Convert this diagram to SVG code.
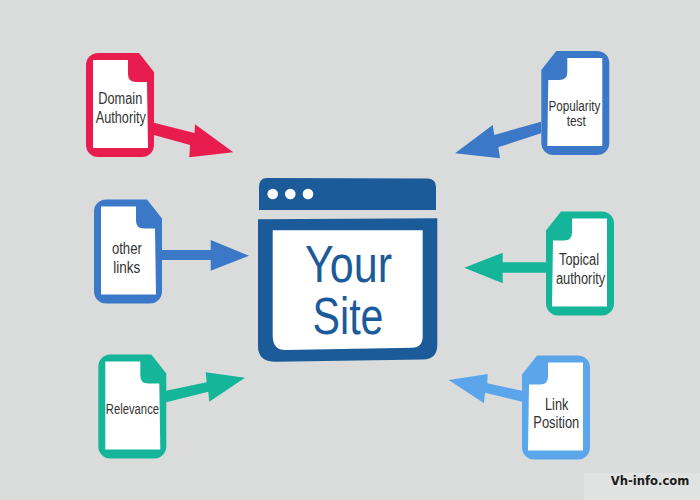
<svg xmlns="http://www.w3.org/2000/svg" width="700" height="500" viewBox="0 0 700 500">
<style>
.red{fill:#e91c50}.blue{fill:#3c78c8}.teal{fill:#14b598}.sky{fill:#5ba6ea}.navy{fill:#1c5b99}.w{fill:#fff}
text{font-family:"Liberation Sans",Arial,sans-serif;text-anchor:middle;fill:#333}
.big{font-size:52px;fill:#1c5b99}
.mark{font-family:"DejaVu Sans",sans-serif;font-weight:700;font-size:13px;fill:#1c1c1c}
</style>
<defs>
<path id="outer" d="M12,0H53L68,19V92A12,12 0 0 1 56,104H12A12,12 0 0 1 0,92V12A12,12 0 0 1 12,0Z"/>
<path id="inner" d="M7,7H42V21Q42,29 50,29H61L62,95H7Z" fill="#fff"/>
</defs>
<rect width="700" height="500" fill="#dadcdb"/>
<rect x="584" y="473" width="116" height="27" fill="#e1e3e2"/>
<g id="connectors">
<polygon class="red" points="154,122.7 194.5,133 195,124.3 233.3,152.3 189.3,157.3 190,145 154,135"/>
<polygon class="blue" points="161.7,250 210.7,250 210.7,240 249,255.7 210.7,270.7 210.7,260 161.7,260"/>
<polygon class="teal" points="166,390.7 206.7,382.3 205.7,372.3 245,377.7 209.3,401.7 208.3,391.7 166,402.3"/>
<polygon class="blue" points="541,121.7 494.3,135 492.7,125 455,153.3 500,158.3 498.3,147.3 541,133.3"/>
<polygon class="teal" points="546,262.3 502.7,262.3 502.7,252.7 464.3,267.7 502.7,283.3 502.7,272.7 546,272.7"/>
<polygon class="sky" points="522,390.7 487.3,383.3 487.7,374 448.7,380 484,403.3 485,392.7 522,401.7"/>
</g>
<g id="node-domain-authority">
<use href="#outer" class="red" x="86" y="53"/><use href="#inner" x="86" y="53"/>
<text x="120.3" y="104" font-size="16" textLength="44" lengthAdjust="spacingAndGlyphs">Domain</text>
<text x="120.8" y="123.3" font-size="16" textLength="50" lengthAdjust="spacingAndGlyphs">Authority</text>
</g>
<g id="node-other-links">
<use href="#outer" class="blue" x="94" y="199.5"/><use href="#inner" x="94" y="199.5"/>
<text x="126.9" y="254" font-size="16" textLength="30" lengthAdjust="spacingAndGlyphs">other</text>
<text x="126.7" y="273" font-size="16" textLength="27" lengthAdjust="spacingAndGlyphs">links</text>
</g>
<g id="node-relevance">
<use href="#outer" class="teal" x="98.3" y="354.5"/><use href="#inner" x="98.3" y="354.5"/>
<text x="132.4" y="413.7" font-size="14" textLength="53.3" lengthAdjust="spacingAndGlyphs">Relevance</text>
</g>
<g id="node-popularity-test">
<g transform="translate(609.3,51) scale(-1,1)"><use href="#outer" class="blue"/><use href="#inner"/></g>
<text x="574.4" y="110.7" font-size="14" textLength="52" lengthAdjust="spacingAndGlyphs">Popularity</text>
<text x="576.3" y="126" font-size="14" textLength="19.3" lengthAdjust="spacingAndGlyphs">test</text>
</g>
<g id="node-topical-authority">
<g transform="translate(614,211.5) scale(-1,1)"><use href="#outer" class="teal"/><use href="#inner"/></g>
<text x="579" y="265.3" font-size="16" textLength="40" lengthAdjust="spacingAndGlyphs">Topical</text>
<text x="580.6" y="284" font-size="16" textLength="49.3" lengthAdjust="spacingAndGlyphs">authority</text>
</g>
<g id="node-link-position">
<g transform="translate(590,355.5) scale(-1,1)"><use href="#outer" class="sky"/><use href="#inner"/></g>
<text x="556.7" y="410" font-size="16" textLength="23.3" lengthAdjust="spacingAndGlyphs">Link</text>
<text x="556.3" y="428.3" font-size="16" textLength="46" lengthAdjust="spacingAndGlyphs">Position</text>
</g>
<g id="node-your-site">
<path class="navy" d="M267,178L428,178.5Q436,179 436,187V210H259V187Q259,178 267,178Z"/>
<circle class="w" cx="272.7" cy="194" r="5.3"/><circle class="w" cx="290.3" cy="194" r="5.3"/><circle class="w" cx="308" cy="194" r="5.3"/>
<path class="navy" d="M258,219.3L437.3,218.3V345Q437.3,359 423,359.5L276,361.7Q258,362 258,346Z"/>
<path class="w" d="M272.7,230.3H422.7V336Q422.7,347.5 412,347.8L285,350Q273.5,350 272.7,337Z"/>
<text class="big" x="348.5" y="281.7" textLength="87" lengthAdjust="spacingAndGlyphs">Your</text>
<text class="big" x="348" y="334" textLength="71" lengthAdjust="spacingAndGlyphs">Site</text>
</g>
<text class="mark" x="650" y="485" textLength="78.7" lengthAdjust="spacingAndGlyphs">Vh-info.com</text>
</svg>
